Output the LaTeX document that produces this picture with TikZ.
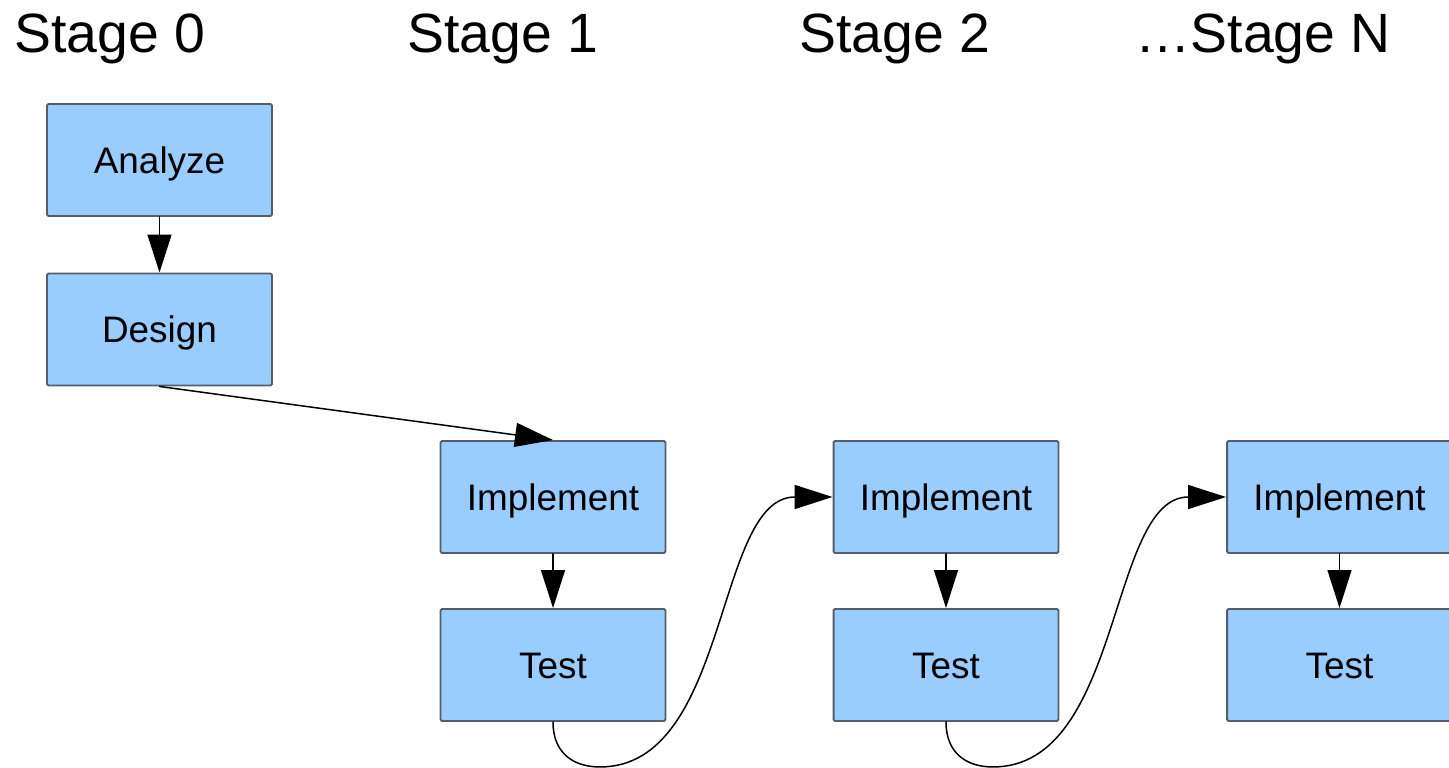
\documentclass[tikz,border=0pt]{standalone}
\usepackage{fontspec}
\setmainfont{Liberation Sans}
\usetikzlibrary{arrows.meta}
\definecolor{boxblue}{HTML}{99CCFF}
\definecolor{boxedge}{rgb}{0.33,0.37,0.42}
\begin{document}
\begin{tikzpicture}[line cap=round,line join=round,>={Triangle[length=0.76cm,width=0.48cm]},x=0.02cm,y=0.02cm,
  phase/.style={draw=boxedge,line width=1.1pt,fill=boxblue,rounded corners=0.8pt,minimum width=4.5cm,minimum height=2.24cm,inner sep=0pt,text height=15pt,text depth=0pt,font=\fontsize{21}{25}\selectfont},
  stagelabel/.style={anchor=base west,inner sep=0pt,font=\fontsize{31.5}{37}\selectfont},
  flow/.style={->,line width=0.85pt}]
\useasboundingbox (0,0) rectangle (1449,767);
\clip (0,0) rectangle (1449,767);
% stage headings
\node[stagelabel] (stage0) at (14,714) {Stage 0};
\node[stagelabel] (stage1) at (407,714) {Stage 1};
\node[stagelabel] (stage2) at (799,714) {Stage 2};
\node[stagelabel] (stageN) at (1135,714) {…Stage N};
% boxes
\node[phase] (analyze) at (159.5,607) {Analyze};
\node[phase] (design) at (159.5,437.5) {Design};
\node[phase] (impl1) at (553,270) {Implement};
\node[phase] (test1) at (553,102) {Test};
\node[phase] (impl2) at (946,270) {Implement};
\node[phase] (test2) at (946,102) {Test};
\node[phase] (impl3) at (1339.5,270) {Implement};
\node[phase] (test3) at (1339.5,102) {Test};
% arrows
\draw[flow] (analyze) -- (design);
\draw[flow] (design.south) -- (impl1.north);
\draw[flow] (impl1) -- (test1);
\draw[flow] (impl2) -- (test2);
\draw[flow] (impl3) -- (test3);
\draw[flow] (test1.south) .. controls +(0,-30) and +(-28,0) .. ++(47,-45)
  .. controls +(130,0) and +(-118,0) .. (impl2.west);
\draw[flow] (test2.south) .. controls +(0,-30) and +(-28,0) .. ++(47,-45)
  .. controls +(130,0) and +(-118,0) .. (impl3.west);
\end{tikzpicture}
\end{document}
